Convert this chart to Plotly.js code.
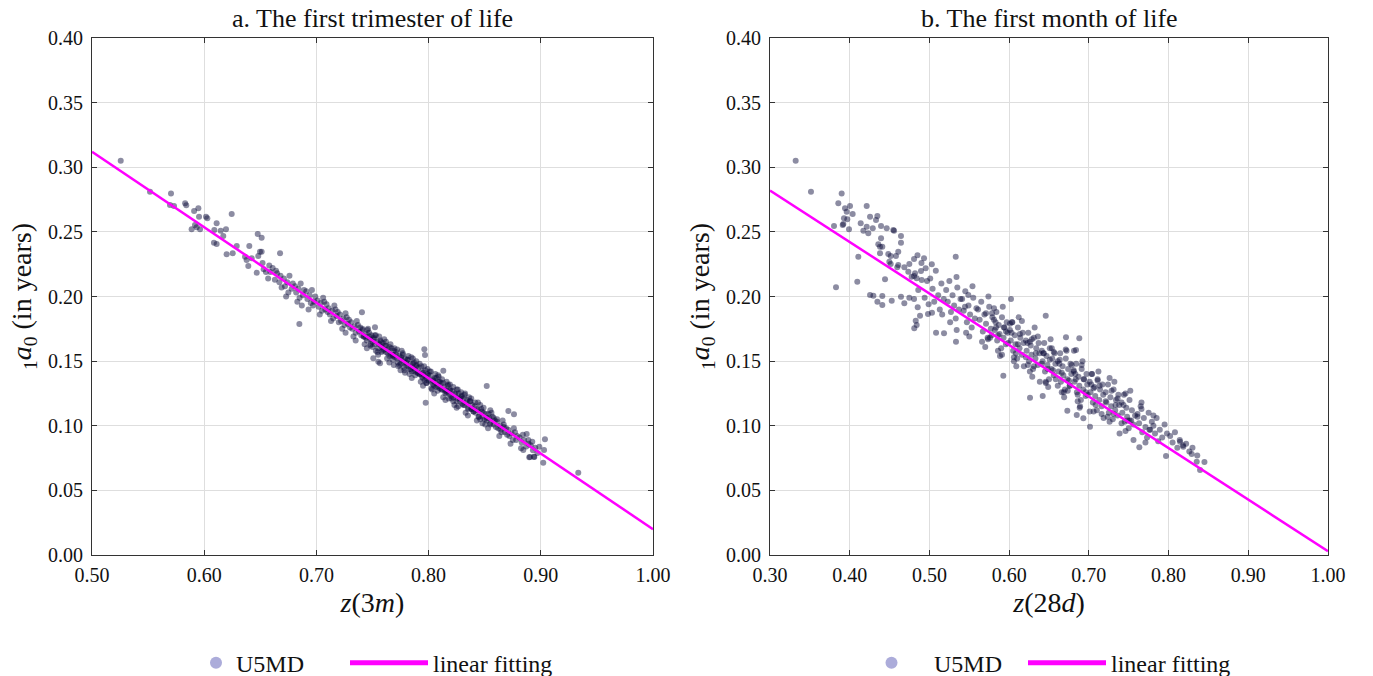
<!DOCTYPE html>
<html>
<head>
<meta charset="utf-8">
<script src="https://cdn.plot.ly/plotly-3.0.1.min.js"></script>
<style>
html,body{margin:0;padding:0;background:#fff;}
#chart{width:1373px;height:676px;}
#chart svg text, #chart svg tspan { font-family: 'Liberation Serif', 'Times New Roman', serif !important; }
</style>
</head>
<body>
<div id="chart"></div>
<script>
// ---------- Panel a: first trimester of life ----------
const aX = [0.5256,0.5517,0.5704,0.5695,0.5731,0.583,0.584,0.591,0.5948,0.5954,0.6016,0.6028,0.6111,0.6245,0.5888,0.5918,0.5933,0.5963,0.609,0.6147,0.6194,0.617,0.6087,0.6111,0.620,0.6254,0.629,0.6402,0.6477,0.6512,0.6364,0.6378,0.6423,0.6393,0.6482,0.6512,0.6468,0.6676,0.6848,0.6497,
0.7962,0.7968,0.7974,0.8518,0.8711,0.8761,0.9037,0.9022,0.8939,0.8897,0.8987,0.8924,0.7406,0.7507,0.7552,0.7567,0.7522,0.8131,0.9334,0.8904,0.8942,0.9029,0.8874,0.8889,0.8824,0.8844,
0.652,0.655,0.658,0.657,0.653,0.659,
0.661,0.663,0.665,0.667,0.668,0.669,0.664,
0.671,0.672,0.674,0.675,0.676,0.678,0.679,0.673,
0.681,0.682,0.684,0.685,0.686,0.688,0.689,0.683,0.687,
0.691,0.692,0.694,0.695,0.696,0.698,0.699,0.693,0.697,
0.701,0.702,0.704,0.705,0.706,0.708,0.709,0.703,0.707,0.710,
0.711,0.712,0.714,0.715,0.716,0.718,0.719,0.713,0.717,0.720,
0.721,0.722,0.724,0.725,0.726,0.728,0.729,0.723,0.727,0.730,0.726,
0.731,0.732,0.734,0.735,0.736,0.738,0.739,0.733,0.737,0.740,0.735,
0.741,0.742,0.744,0.745,0.746,0.748,0.749,0.743,0.747,0.750,0.745,0.748,
0.751,0.752,0.754,0.755,0.756,0.758,0.759,0.753,0.757,0.760,0.755,0.758,0.752,
0.761,0.762,0.764,0.765,0.766,0.768,0.769,0.763,0.767,0.770,0.765,0.768,0.762,0.769,
0.771,0.772,0.774,0.775,0.776,0.778,0.779,0.773,0.777,0.780,0.775,0.778,0.772,0.776,0.779,
0.781,0.782,0.784,0.785,0.786,0.788,0.789,0.783,0.787,0.790,0.785,0.788,0.782,0.786,0.789,0.784,
0.791,0.792,0.794,0.795,0.796,0.798,0.799,0.793,0.797,0.800,0.795,0.798,0.792,0.796,0.799,0.794,
0.801,0.802,0.804,0.805,0.806,0.808,0.809,0.803,0.807,0.810,0.805,0.808,0.802,0.806,0.809,0.804,
0.811,0.812,0.814,0.815,0.816,0.818,0.819,0.813,0.817,0.820,0.815,0.818,0.812,0.816,0.819,
0.821,0.822,0.824,0.825,0.826,0.828,0.829,0.823,0.827,0.830,0.825,0.822,0.826,0.829,
0.831,0.832,0.834,0.835,0.836,0.838,0.839,0.833,0.837,0.840,0.835,0.832,0.838,
0.841,0.842,0.844,0.845,0.846,0.848,0.849,0.843,0.847,0.850,0.844,0.848,
0.851,0.852,0.854,0.855,0.856,0.858,0.859,0.853,0.857,0.860,0.855,
0.861,0.862,0.864,0.865,0.866,0.868,0.869,0.863,0.867,0.870,
0.871,0.872,0.874,0.875,0.876,0.878,0.879,0.873,0.877,
0.881,0.883,0.885,0.887,0.884,0.889,
0.891,0.893,0.895,0.897,
0.741,0.744,0.747,0.750,0.753,0.756,0.759,0.762,0.765,0.768,0.771,0.774,0.777,0.780,0.783,0.786,0.789,0.792,0.795,0.798,0.801,0.804,0.807,0.810,0.813,0.816,0.819,0.822,0.825,0.828,0.831,0.834,0.837,0.840,0.843,0.846,0.849,0.852,0.855,0.858,0.861,0.864,0.867,
0.7425,0.7455,0.7485,0.7515,0.7545,0.7575,0.7605,0.7635,0.7665,0.7695,0.7725,0.7755,0.7785,0.7815,0.7845,0.7875,0.7905,0.7935,0.7965,0.7995,0.8025,0.8055,0.8085,0.8115,0.8145,0.8175,0.8205,0.8235,0.8265,0.8295,0.8325,0.8355,0.8385,0.8415,0.8445,0.8475,0.8505,0.8535];
const aY = [0.3051,0.2811,0.2796,0.2708,0.2700,0.2721,0.2706,0.2661,0.2682,0.2617,0.2617,0.2605,0.2566,0.2638,0.2520,0.2553,0.2535,0.2520,0.2515,0.2509,0.2520,0.2468,0.2416,0.2406,0.2326,0.2334,0.2391,0.2391,0.2484,0.2455,0.2308,0.2282,0.2296,0.2236,0.2313,0.2347,0.2184,0.2334,0.1787,0.2347,
0.1591,0.1548,0.1178,0.1308,0.1114,0.1089,0.0895,0.0714,0.0761,0.0756,0.0838,0.0877,0.1878,0.1522,0.1496,0.1483,0.1762,0.1426,0.0637,0.0758,0.0758,0.0812,0.0936,0.0890,0.0826,0.0812,
0.226,0.219,0.224,0.214,0.221,0.219,
0.222,0.213,0.218,0.211,0.216,0.207,0.220,
0.214,0.208,0.211,0.203,0.216,0.206,0.210,0.200,
0.208,0.203,0.206,0.199,0.210,0.201,0.205,0.196,0.193,
0.204,0.198,0.201,0.195,0.205,0.196,0.200,0.190,0.193,
0.197,0.192,0.195,0.189,0.199,0.190,0.194,0.186,0.196,0.188,
0.191,0.186,0.189,0.183,0.193,0.185,0.188,0.181,0.190,0.180,
0.186,0.181,0.183,0.178,0.187,0.179,0.182,0.175,0.184,0.176,0.172,
0.180,0.175,0.177,0.172,0.181,0.173,0.176,0.169,0.178,0.170,0.166,
0.174,0.169,0.171,0.166,0.175,0.167,0.170,0.163,0.172,0.165,0.160,0.162,
0.168,0.163,0.165,0.160,0.169,0.161,0.164,0.158,0.166,0.159,0.155,0.157,0.170,
0.162,0.157,0.159,0.154,0.163,0.155,0.158,0.152,0.160,0.153,0.149,0.151,0.165,0.147,
0.157,0.152,0.154,0.148,0.158,0.149,0.152,0.146,0.155,0.147,0.143,0.145,0.159,0.151,0.141,
0.151,0.146,0.148,0.142,0.152,0.143,0.146,0.140,0.149,0.141,0.137,0.139,0.154,0.145,0.150,0.144,
0.145,0.140,0.142,0.137,0.146,0.137,0.140,0.134,0.143,0.135,0.131,0.133,0.148,0.139,0.144,0.138,
0.139,0.134,0.136,0.131,0.140,0.131,0.134,0.128,0.137,0.129,0.125,0.127,0.142,0.133,0.138,0.132,
0.133,0.128,0.130,0.125,0.134,0.125,0.128,0.122,0.131,0.123,0.120,0.121,0.136,0.127,0.132,
0.127,0.122,0.124,0.119,0.128,0.119,0.122,0.116,0.125,0.117,0.114,0.130,0.121,0.126,
0.121,0.116,0.118,0.113,0.122,0.113,0.116,0.110,0.119,0.111,0.108,0.124,0.121,
0.115,0.110,0.112,0.107,0.116,0.107,0.110,0.104,0.113,0.105,0.118,0.102,
0.109,0.104,0.106,0.101,0.110,0.101,0.104,0.098,0.107,0.099,0.112,
0.103,0.098,0.100,0.095,0.104,0.095,0.098,0.092,0.101,0.093,
0.097,0.092,0.094,0.089,0.098,0.089,0.092,0.086,0.095,
0.091,0.087,0.089,0.084,0.093,0.086,
0.085,0.081,0.083,0.079,
0.175,0.168,0.169,0.161,0.170,0.163,0.158,0.162,0.161,0.154,0.155,0.147,0.156,0.149,0.144,0.148,0.147,0.140,0.141,0.133,0.142,0.135,0.130,0.134,0.133,0.126,0.127,0.119,0.128,0.121,0.116,0.120,0.119,0.111,0.113,0.105,0.114,0.106,0.102,0.106,0.105,0.097,0.099,
0.169,0.174,0.163,0.167,0.157,0.165,0.167,0.156,0.155,0.160,0.149,0.153,0.143,0.151,0.153,0.142,0.141,0.146,0.135,0.139,0.129,0.137,0.139,0.128,0.127,0.132,0.121,0.125,0.115,0.123,0.125,0.114,0.113,0.118,0.107,0.111,0.101,0.109];
const aFitX = [0.50, 1.00];
const aFitY = [0.312, 0.020];

// ---------- Panel b: first month of life ----------
const bX = [0.3322,0.3514,0.3899,0.3857,0.3941,0.3962,0.4004,0.4037,0.3928,0.3970,0.3912,0.3920,0.3803,0.3991,0.4213,0.4255,0.4330,0.4347,0.4138,0.4171,0.4213,0.4233,0.4289,0.4108,0.3828,0.4095,0.4393,0.4464,0.4547,0.4556,0.4643,0.4643,0.4393,0.4359,0.4380,0.4409,0.4380,0.4484,0.4514,0.4580,0.4609,0.4443,0.4497,0.4514,0.4597,0.4609,0.4807,0.4932,0.4255,0.4297,0.4347,0.4409,0.4409,0.4527,0.4643,0.4685,0.4748,0.4807,0.4853,0.4685,0.4748,0.4735,0.4777,0.4807,0.4840,0.4894,0.4953,0.4903,0.4828,0.4810,0.4840,0.4882,0.4982,0.5032,0.5083,0.5183,0.5330,
0.6023,0.6459,0.6713,0.6880,0.6839,0.6814,0.6262,0.6421,0.5927,0.6730,0.6848,0.6931,0.7014,0.7633,0.7968,0.8290,0.8353,0.8185,0.8144,0.5488,0.5446,0.5342,0.5333,0.8395,
0.482,0.486,0.490,0.494,0.497,0.485,0.499,
0.501,0.504,0.506,0.508,0.511,0.513,0.515,0.518,0.503,0.516,
0.521,0.523,0.525,0.527,0.529,0.531,0.533,0.535,0.537,0.539,0.526,0.534,
0.541,0.543,0.545,0.547,0.549,0.551,0.553,0.555,0.557,0.559,0.546,0.554,0.550,
0.561,0.563,0.565,0.567,0.569,0.571,0.573,0.575,0.577,0.579,0.566,0.574,0.570,0.578,
0.581,0.582,0.584,0.585,0.587,0.588,0.590,0.591,0.593,0.594,0.586,0.592,0.596,0.598,0.583,0.597,
0.601,0.602,0.604,0.605,0.607,0.608,0.610,0.611,0.613,0.614,0.606,0.612,0.616,0.618,0.603,0.617,0.609,
0.621,0.622,0.624,0.625,0.627,0.628,0.630,0.631,0.633,0.634,0.626,0.632,0.636,0.638,0.623,0.637,0.629,
0.641,0.642,0.644,0.645,0.647,0.648,0.650,0.651,0.653,0.654,0.646,0.652,0.656,0.658,0.643,0.657,0.649,0.655,
0.661,0.662,0.664,0.665,0.667,0.668,0.670,0.671,0.673,0.674,0.666,0.672,0.676,0.678,0.663,0.677,0.669,0.675,
0.681,0.682,0.684,0.685,0.687,0.688,0.690,0.691,0.693,0.694,0.686,0.692,0.696,0.698,0.683,0.697,0.689,
0.701,0.702,0.704,0.705,0.707,0.708,0.710,0.711,0.713,0.714,0.706,0.712,0.716,0.718,0.703,0.717,
0.721,0.722,0.724,0.725,0.727,0.728,0.730,0.731,0.733,0.734,0.726,0.732,0.736,0.738,0.737,
0.741,0.742,0.744,0.745,0.747,0.748,0.750,0.751,0.753,0.754,0.746,0.752,0.756,0.758,
0.761,0.763,0.765,0.767,0.769,0.771,0.773,0.775,0.777,0.779,0.766,
0.781,0.783,0.785,0.787,0.789,0.792,0.795,0.798,
0.802,0.805,0.808,0.811,0.814,0.818,
0.822,0.826,0.830,0.836,0.845,
0.571,0.576,0.581,0.586,0.591,0.596,0.601,0.606,0.611,0.616,0.621,0.626,0.631,0.636,0.641,0.646,0.651,0.656,0.661,0.666,0.671,0.676,0.681,0.686,0.691,0.696,0.701,0.706,0.711,0.716,0.721,0.726,0.731,0.736,0.741,0.746,0.751,0.756,0.761,0.766,0.771,0.776,0.781,
0.5735,0.5785,0.5835,0.5885,0.5935,0.5985,0.6035,0.6085,0.6135,0.6185,0.6235,0.6285,0.6335,0.6385,0.6435,0.6485,0.6535,0.6585,0.6635,0.6685,0.6735,0.6785,0.6835,0.6885,0.6935,0.6985,0.7035,0.7085,0.7135,0.7185,0.7235,0.7285,0.7335,0.7385,0.7435,0.7485];
const bY = [0.3051,0.2811,0.2796,0.2721,0.2682,0.2656,0.2700,0.2638,0.2605,0.2597,0.2553,0.2561,0.2545,0.2520,0.2700,0.2617,0.2592,0.2623,0.2566,0.2509,0.2540,0.2489,0.2528,0.2308,0.2071,0.2115,0.2545,0.2528,0.2515,0.2509,0.2468,0.2416,0.2450,0.2404,0.2385,0.2385,0.2334,0.2329,0.2313,0.2313,0.2347,0.2133,0.2269,0.2251,0.2226,0.2244,0.2290,0.2296,0.2012,0.2006,0.1960,0.2004,0.1934,0.1967,0.1999,0.1947,0.1991,0.1981,0.1916,0.2226,0.2251,0.2192,0.2153,0.2159,0.2141,0.2197,0.2218,0.2128,0.1813,0.1754,0.1780,0.1852,0.1865,0.1875,0.1720,0.1715,0.2308,
0.1981,0.1852,0.1684,0.1677,0.1586,0.1581,0.1217,0.1230,0.1387,0.1116,0.1083,0.1058,0.0993,0.0833,0.0766,0.0781,0.0722,0.0838,0.0877,0.2012,0.1921,0.1741,0.1650,0.0658,
0.218,0.205,0.226,0.199,0.212,0.232,0.194,
0.214,0.206,0.196,0.220,0.201,0.190,0.210,0.198,0.225,0.186,
0.205,0.196,0.212,0.188,0.201,0.193,0.183,0.207,0.190,0.198,0.180,0.215,
0.198,0.189,0.204,0.180,0.193,0.186,0.176,0.199,0.183,0.191,0.172,0.208,0.169,
0.190,0.182,0.196,0.173,0.186,0.179,0.168,0.192,0.175,0.184,0.165,0.200,0.161,0.170,
0.182,0.174,0.188,0.166,0.178,0.171,0.160,0.184,0.168,0.176,0.158,0.192,0.163,0.172,0.180,0.180,
0.174,0.166,0.180,0.158,0.170,0.163,0.152,0.176,0.160,0.168,0.150,0.184,0.155,0.164,0.172,0.172,0.146,
0.166,0.158,0.172,0.150,0.162,0.155,0.144,0.168,0.152,0.160,0.142,0.176,0.147,0.156,0.164,0.164,0.138,
0.158,0.150,0.164,0.142,0.154,0.147,0.136,0.160,0.144,0.152,0.134,0.167,0.139,0.148,0.156,0.156,0.130,0.143,
0.150,0.142,0.156,0.134,0.146,0.139,0.128,0.152,0.136,0.144,0.126,0.158,0.131,0.140,0.148,0.148,0.122,0.135,
0.142,0.134,0.148,0.126,0.138,0.131,0.120,0.144,0.128,0.136,0.119,0.150,0.123,0.132,0.140,0.140,0.115,
0.134,0.126,0.140,0.118,0.130,0.123,0.112,0.136,0.120,0.128,0.111,0.142,0.115,0.124,0.132,0.132,
0.126,0.118,0.132,0.110,0.122,0.115,0.105,0.128,0.112,0.120,0.103,0.134,0.108,0.116,0.124,
0.118,0.110,0.124,0.103,0.114,0.107,0.098,0.120,0.104,0.112,0.096,0.127,0.101,0.108,
0.109,0.102,0.115,0.095,0.106,0.099,0.091,0.110,0.097,0.103,0.118,
0.100,0.094,0.106,0.088,0.097,0.091,0.101,0.094,
0.092,0.087,0.095,0.083,0.089,0.085,
0.086,0.080,0.083,0.077,0.072,
0.187,0.168,0.191,0.170,0.155,0.173,0.179,0.153,0.163,0.181,0.153,0.165,0.146,0.169,0.148,0.133,0.151,0.157,0.131,0.141,0.159,0.131,0.143,0.124,0.147,0.126,0.111,0.129,0.135,0.109,0.119,0.137,0.109,0.121,0.102,0.125,0.104,0.089,0.107,0.113,0.087,0.097,0.108,
0.167,0.187,0.176,0.154,0.176,0.164,0.180,0.156,0.171,0.146,0.147,0.167,0.156,0.134,0.156,0.144,0.160,0.136,0.151,0.126,0.127,0.147,0.136,0.114,0.136,0.124,0.140,0.116,0.131,0.106,0.107,0.127,0.116,0.094,0.116,0.104];
const bFitX = [0.30, 1.00];
const bFitY = [0.282, 0.003];

const seriesNames = ['U5MD', 'linear fitting'];
const titles = ['a. The first trimester of life', 'b. The first month of life'];
const xTitles = ['<i>z</i>(3<i>m</i>)', '<i>z</i>(28<i>d</i>)'];
const yTitle = '<sub>1</sub><i>a</i><sub>0</sub> (in years)';
const yTicks = [0,0.05,0.10,0.15,0.20,0.25,0.30,0.35,0.40];
const xTicksA = [0.5,0.6,0.7,0.8,0.9,1.0];
const xTicksB = [0.3,0.4,0.5,0.6,0.7,0.8,0.9,1.0];

const dotColor = 'rgba(15,15,60,0.48)';
const legendDot = 'rgb(172,172,218)';
const fitColor = '#ff00ff';

const traces = [
  {x: aX, y: aY, type: 'scatter', mode: 'markers', name: seriesNames[0], xaxis: 'x', yaxis: 'y', showlegend: false,
   marker: {size: 6, color: dotColor}},
  {x: aFitX, y: aFitY, type: 'scatter', mode: 'lines', name: seriesNames[1], xaxis: 'x', yaxis: 'y', legend: 'legend2',
   line: {color: fitColor, width: 2.5}},
  {x: bX, y: bY, type: 'scatter', mode: 'markers', name: seriesNames[0], xaxis: 'x2', yaxis: 'y2', showlegend: false,
   marker: {size: 6, color: dotColor}},
  {x: bFitX, y: bFitY, type: 'scatter', mode: 'lines', name: seriesNames[1], xaxis: 'x2', yaxis: 'y2', legend: 'legend4',
   line: {color: fitColor, width: 2.5}},
  {x: [null], y: [null], type: 'scatter', mode: 'markers', name: seriesNames[0], xaxis: 'x', yaxis: 'y', legend: 'legend',
   marker: {size: 12, color: legendDot}},
  {x: [null], y: [null], type: 'scatter', mode: 'markers', name: seriesNames[0], xaxis: 'x2', yaxis: 'y2', legend: 'legend3',
   marker: {size: 12, color: legendDot}}
];

function xAxis(domain, range, ticks, title, anchor) {
  return {domain: domain, range: range, anchor: anchor, tickvals: ticks, ticktext: ticks.map(v => v.toFixed(2)),
    ticks: 'inside', ticklen: 5, tickcolor: '#333', showline: true, mirror: 'ticks', linecolor: '#333', linewidth: 1,
    showgrid: true, gridcolor: '#dedede', zeroline: false, tickfont: {family: 'Liberation Serif', size: 20, color: '#111'},
    ticklabelstandoff: 2,
    title: {text: title, font: {family: 'Liberation Serif', size: 28, color: '#111'}, standoff: 7}};
}
function yAxis(domain, anchor) {
  return {domain: domain, range: [0, 0.40], anchor: anchor, tickvals: yTicks, ticktext: yTicks.map(v => v.toFixed(2)),
    ticks: 'inside', ticklen: 5, tickcolor: '#333', showline: true, mirror: 'ticks', linecolor: '#333', linewidth: 1,
    showgrid: true, gridcolor: '#dedede', zeroline: false, tickfont: {family: 'Liberation Serif', size: 20, color: '#111'},
    ticklabelstandoff: 4,
    title: {text: yTitle, font: {family: 'Liberation Serif', size: 28, color: '#111'}, standoff: 8}};
}
const yDom = [1 - 555/676, 1 - 38/676];
function legendAt(px, w) {
  return {orientation: 'h', yanchor: 'middle', y: 0.019, xanchor: 'left', x: px/1373,
    font: {family: 'Liberation Serif', size: 24, color: '#111'}, itemsizing: 'constant', itemwidth: w, bgcolor: 'rgba(0,0,0,0)'};
}

const layout = {
  width: 1373, height: 676,
  margin: {l: 0, r: 0, t: 0, b: 0, autoexpand: false},
  xaxis: xAxis([92/1373, 653/1373], [0.5, 1.0], xTicksA, xTitles[0], 'y'),
  yaxis: yAxis(yDom, 'x'),
  xaxis2: xAxis([770/1373, 1328/1373], [0.3, 1.0], xTicksB, xTitles[1], 'y2'),
  yaxis2: yAxis(yDom, 'x2'),
  legend: legendAt(196, 30),
  legend2: legendAt(345, 78),
  legend3: legendAt(849, 75),
  legend4: legendAt(1023, 78),
  annotations: [
    {text: titles[0], xref: 'paper', yref: 'paper', x: (92+653)/2/1373, y: 1 - 18/676, xanchor: 'center', yanchor: 'middle',
     showarrow: false, font: {family: 'Liberation Serif', size: 26, color: '#111'}},
    {text: titles[1], xref: 'paper', yref: 'paper', x: (770+1328)/2/1373, y: 1 - 18/676, xanchor: 'center', yanchor: 'middle',
     showarrow: false, font: {family: 'Liberation Serif', size: 26, color: '#111'}}
  ]
};

Plotly.newPlot('chart', traces, layout, {displayModeBar: false, staticPlot: true});
</script>
</body>
</html>
